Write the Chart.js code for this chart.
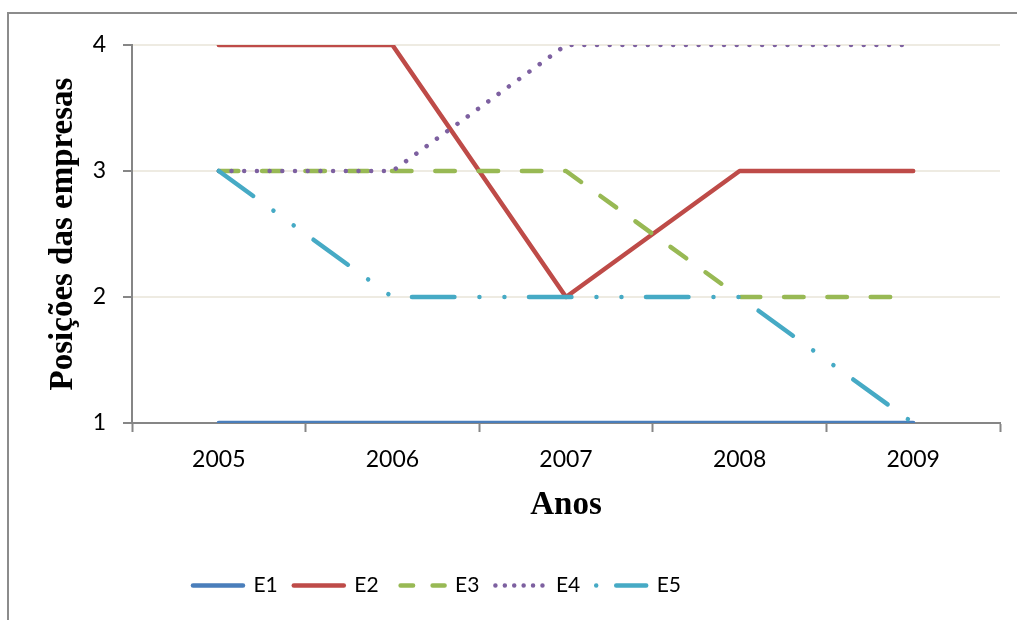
<!DOCTYPE html>
<html>
<head>
<meta charset="utf-8">
<script src="https://cdn.jsdelivr.net/npm/chart.js@4.4.1/dist/chart.umd.min.js"></script>
<style>
  html, body { margin: 0; padding: 0; background: #fff; overflow: hidden; }
  #wrap { position: relative; width: 1017px; height: 620px; overflow: hidden; }
  #frame { position: absolute; left: 7px; top: 12px; width: 1100px; height: 700px; border: 2px solid #8c8c8c; }
  #c { position: absolute; left: 0; top: 0; }
</style>
</head>
<body>
<div id="wrap">
  <div id="frame"></div>
  <canvas id="c" width="1017" height="620"></canvas>
</div>
<script>
// Years on the horizontal axis
const anos = ['2005', '2006', '2007', '2008', '2009'];

// Ranking position of each company per year
const e1 = [1, 1, 1, 1, 1];
const e2 = [4, 4, 2, 3, 3];
const e3 = [3, 3, 3, 2, 2];
const e4 = [3, 3, 4, 4, 4];
const e5 = [3, 2, 2, 2, 1];

// Vertical axis ticks
const yTicks = [1, 2, 3, 4];

// Series names
const nomes = ['E1', 'E2', 'E3', 'E4', 'E5'];

const cores = ['#4a7ebb', '#be4b48', '#98b954', '#7d60a0', '#46aac5'];
const tracos = [
  [],
  [],
  [19.5, 23.8],
  [0.01, 12.69],
  [42.5, 25, 0.01, 25, 0.01, 24.5]
];
// Shorter dash patterns for the legend samples (drawn right to left)
const tracosLegenda = [[], [], [12.5, 19.5], [0.01, 9.4], [0.01, 20, 31, 100]];
const deslocLegenda = [0, 0, 26, 0, 0];

const AXIS = '#868686';
const GRID = '#eeebe2';

const series = [e1, e2, e3, e4, e5];

const datasets = series.map((vals, i) => ({
  label: nomes[i],
  data: vals,
  borderColor: cores[i],
  backgroundColor: cores[i],
  borderWidth: 4.5,
  borderDash: tracos[i],
  borderCapStyle: 'round',
  borderJoinStyle: 'round',
  pointRadius: 0,
  pointHoverRadius: 0,
  tension: 0,
  fill: false,
  order: series.length - i
}));

// Moves the legend row to sit under the left part of the plot
const legendOffset = {
  id: 'legendOffset',
  afterLayout(chart) {
    const lg = chart.legend;
    if (lg) { lg.left -= 63; lg.right -= 63; }
  }
};

function draw() {
  new Chart(document.getElementById('c'), {
    type: 'line',
    data: { labels: anos, datasets },
    plugins: [legendOffset],
    options: {
      responsive: false,
      animation: false,
      devicePixelRatio: 1,
      layout: { padding: { left: 0, top: 45, right: 17, bottom: 14 } },
      font: { family: 'Lato' },
      plugins: {
        tooltip: { enabled: false },
        legend: {
          position: 'bottom',
          align: 'center',
          labels: {
            usePointStyle: true,
            pointStyle: 'line',
            pointStyleWidth: 50,
            padding: 16,
            color: '#000',
            font: { family: 'Lato', size: 21 },
            generateLabels(chart) {
              return chart.data.datasets.map((ds, i) => ({
                text: ds.label,
                fillStyle: ds.borderColor,
                strokeStyle: ds.borderColor,
                fontColor: '#000',
                lineWidth: ds.borderWidth,
                lineCap: 'round',
                lineJoin: 'round',
                lineDash: tracosLegenda[i],
                lineDashOffset: deslocLegenda[i],
                pointStyle: 'line',
                rotation: 0,
                hidden: false,
                datasetIndex: i
              }));
            }
          }
        }
      },
      scales: {
        x: {
          type: 'category',
          offset: true,
          afterFit(s) { s.height = 136; },
          grid: {
            offset: true,
            drawOnChartArea: false,
            drawTicks: true,
            tickLength: 9,
            tickColor: AXIS,
            tickWidth: 2,
            color: AXIS
          },
          border: { display: true, color: AXIS, width: 2 },
          ticks: {
            color: '#000',
            padding: 14,
            maxRotation: 0,
            font: { family: 'Lato', size: 23 }
          },
          title: {
            display: true,
            text: 'Anos',
            color: '#000',
            padding: { top: 0, bottom: 34 },
            font: { family: 'Liberation Serif', size: 33, weight: 'bold' }
          }
        },
        y: {
          min: 1,
          max: 4,
          afterFit(s) { s.width = 132; },
          afterBuildTicks(s) { s.ticks = yTicks.map(v => ({ value: v })); },
          grid: {
            color: GRID,
            lineWidth: 2,
            drawTicks: true,
            tickLength: 9,
            tickColor: AXIS,
            tickWidth: 2
          },
          border: { display: true, color: AXIS, width: 2 },
          ticks: {
            color: '#000',
            padding: 17,
            font: { family: 'Lato', size: 23 }
          },
          title: {
            display: true,
            text: 'Posições das empresas',
            color: '#000',
            padding: { top: 44, bottom: 0 },
            font: { family: 'Liberation Serif', size: 33, weight: 'bold' }
          }
        }
      }
    }
  });
}

Promise.all([
  document.fonts.load('23px Lato'),
  document.fonts.load('bold 33px "Liberation Serif"')
]).then(draw, draw);
</script>
</body>
</html>
